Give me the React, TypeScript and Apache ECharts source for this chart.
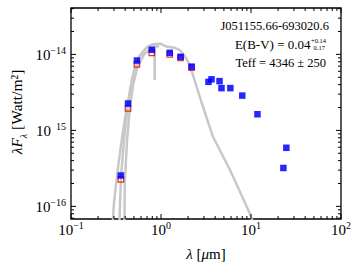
import React, { useEffect, useRef } from "react";
import * as echarts from "echarts";

// Photometry (blue filled squares), wavelength in micron, lambda*F_lambda in W/m^2
const photWave = [0.358, 0.43, 0.54, 0.79, 1.25, 1.65, 2.19, 3.37, 3.64, 4.47, 4.7, 5.9, 8.0, 11.8, 24.7, 22.9];
const photFlux = [2.55e-16, 2.26e-15, 8.3e-15, 1.15e-14, 1.05e-14, 9.3e-15, 6.9e-15, 4.35e-15, 4.7e-15, 4.45e-15, 3.6e-15, 3.6e-15, 2.87e-15, 1.63e-15, 5.9e-16, 3.2e-16];

// Reddened photometry (red open squares)
const redWave = [0.358, 0.43, 0.54, 0.79, 1.25, 1.65, 2.19];
const redFlux = [2.26e-16, 1.95e-15, 7.4e-15, 1.05e-14, 1.0e-14, 9.0e-15, 6.7e-15];

// Model spectrum strands (gray)
const modelAWave = [0.285, 0.3, 0.33, 0.36, 0.4, 0.45, 0.5, 0.58, 0.7, 0.8, 0.845, 0.85, 0.855, 1.0, 1.15, 1.42, 1.61, 1.83, 2.08, 2.8, 3.77, 5.77, 8.46, 10.0, 11.0];
const modelAFlux = [4e-17, 1.1e-16, 3.0e-16, 6.5e-16, 1.5e-15, 3.2e-15, 6.0e-15, 9.5e-15, 1.25e-14, 1.35e-14, 1.37e-14, 4.6e-15, 1.37e-14, 1.38e-14, 1.27e-14, 1.22e-14, 1.15e-14, 9.6e-15, 7.4e-15, 2.4e-15, 8.3e-16, 3.1e-16, 1.16e-16, 7.4e-17, 5.0e-17];
const modelBWave = [0.392, 0.396, 0.42, 0.45, 0.49, 0.55, 0.65, 0.78, 0.95];
const modelBFlux = [4e-17, 2.1e-16, 7.5e-16, 1.9e-15, 4.0e-15, 7.0e-15, 1.0e-14, 1.2e-14, 1.3e-14];
const modelCWave = [0.34, 0.36, 0.39, 0.43, 0.48, 0.56, 0.68, 0.8];
const modelCFlux = [4e-17, 2.5e-16, 8e-16, 2.2e-15, 5e-15, 9e-15, 1.2e-14, 1.3e-14];

// Axes
const X_MIN = 0.1;
const X_MAX = 100;
const Y_MIN = 6.82e-17;
const Y_MAX = 4.08e-14;
const xMajorTicks = [0.1, 1, 10, 100];
const yMajorTicks = [1e-16, 1e-15, 1e-14];
const minorMult = [2, 3, 4, 5, 6, 7, 8, 9];
const xMinorTicks = [0.1, 1, 10].flatMap((d) => minorMult.map((m) => m * d));
const yMinorTicks = [1e-17, 1e-16, 1e-15, 1e-14]
  .flatMap((d) => minorMult.map((m) => m * d))
  .filter((v) => v > Y_MIN && v < Y_MAX);

const FONT = "'Liberation Serif', 'Times New Roman', serif";

function zip(a: number[], b: number[]) {
  return a.map((v, i) => [v, b[i]]);
}

export default function App() {
  const ref = useRef<HTMLDivElement>(null);
  useEffect(() => {
    if (!ref.current) return;
    const chart = echarts.init(ref.current, undefined, { renderer: "svg" });

    const tickData: number[][] = [];
    xMajorTicks.forEach((v) => tickData.push([v, Y_MIN, 0, 5]));
    xMinorTicks.forEach((v) => tickData.push([v, Y_MIN, 0, 3]));
    yMajorTicks.forEach((v) => tickData.push([X_MIN, v, 1, 5]));
    yMinorTicks.forEach((v) => tickData.push([X_MIN, v, 1, 3]));

    const richLabel = {
      b: { fontSize: 15, fontFamily: FONT, color: "#000", lineHeight: 17, verticalAlign: "bottom" },
      s: { fontSize: 10, fontFamily: FONT, color: "#000", lineHeight: 17, verticalAlign: "top" },
    };

    const grayLine = (data: number[][]) => ({
      type: "line",
      data,
      showSymbol: false,
      symbol: "none",
      lineStyle: { color: "#c8c8c8", width: 2.5 },
      z: 1,
      clip: true,
    });

    const option: any = {
      animation: false,
      textStyle: { fontFamily: FONT },
      grid: {
        left: 71,
        right: 11,
        top: 8,
        bottom: 40,
        show: true,
        borderColor: "#000",
        borderWidth: 1.3,
        backgroundColor: "transparent",
      },
      xAxis: {
        type: "log",
        logBase: 10,
        min: X_MIN,
        max: X_MAX,
        axisLine: { show: false },
        axisTick: { show: false },
        splitLine: { show: false },
        axisLabel: {
          margin: 1,
          fontFamily: FONT,
          formatter: (v: number) => {
            const e = Math.round(Math.log10(v));
            return `{b|10}{s|${e < 0 ? "\u2212" + -e : e}}`;
          },
          rich: richLabel,
        },
        name: "{i|λ}{r| [}{i|μ}{r|m]}",
        nameLocation: "middle",
        nameGap: 27,
        nameTextStyle: {
          fontFamily: FONT,
          rich: {
            i: { fontSize: 15, fontFamily: FONT, fontStyle: "italic", color: "#000" },
            r: { fontSize: 15, fontFamily: FONT, color: "#000" },
          },
        },
      },
      yAxis: {
        type: "log",
        logBase: 10,
        min: Y_MIN,
        max: Y_MAX,
        axisLine: { show: false },
        axisTick: { show: false },
        splitLine: { show: false },
        axisLabel: {
          margin: 5,
          fontFamily: FONT,
          showMinLabel: false,
          showMaxLabel: false,
          formatter: (v: number) => {
            const e = Math.round(Math.log10(v));
            if (e === -15) return "{b|10}{s|\u00a0\u00a015}";
            return `{b|10}{s|${e < 0 ? "\u2212" + -e : e}}`;
          },
          rich: richLabel,
        },
      },
      series: [
        grayLine(zip(modelAWave, modelAFlux)),
        grayLine(zip(modelBWave, modelBFlux)),
        grayLine(zip(modelCWave, modelCFlux)),
        {
          type: "scatter",
          data: zip(redWave, redFlux),
          symbol: "rect",
          symbolSize: 5.5,
          itemStyle: { color: "rgba(0,0,0,0)", borderColor: "#e00000", borderWidth: 1.2 },
          z: 3,
        },
        {
          type: "scatter",
          data: zip(photWave, photFlux),
          symbol: "rect",
          symbolSize: 6.5,
          itemStyle: { color: "#0000ff", opacity: 0.85 },
          z: 4,
        },
        {
          type: "custom",
          data: tickData,
          clip: false,
          z: 10,
          silent: true,
          renderItem: (params: any, api: any) => {
            const cs = params.coordSys;
            const kind = api.value(2);
            const len = api.value(3);
            const p = api.coord([api.value(0), api.value(1)]);
            const style = { stroke: "#000", lineWidth: 1 };
            if (kind === 0) {
              const x = p[0];
              const yb = cs.y + cs.height;
              const yt = cs.y;
              return {
                type: "group",
                children: [
                  { type: "line", shape: { x1: x, y1: yb, x2: x, y2: yb - len }, style },
                  { type: "line", shape: { x1: x, y1: yt, x2: x, y2: yt + len }, style },
                ],
              };
            }
            const y = p[1];
            const xl = cs.x;
            const xr = cs.x + cs.width;
            return {
              type: "group",
              children: [
                { type: "line", shape: { x1: xl, y1: y, x2: xl + len, y2: y }, style },
                { type: "line", shape: { x1: xr, y1: y, x2: xr - len, y2: y }, style },
              ],
            };
          },
        },
      ],
      graphic: [
        {
          type: "text",
          x: 18,
          y: 112,
          rotation: Math.PI / 2,
          style: {
            text: "{i|λF}{is|λ}{r| [Watt/m²]}",
            align: "center",
            verticalAlign: "middle",
            fill: "#000",
            rich: {
              i: { fontSize: 15.5, fontFamily: FONT, fontStyle: "italic", fill: "#000", lineHeight: 17, verticalAlign: "top" },
              is: { fontSize: 10, fontFamily: FONT, fontStyle: "italic", fill: "#000", lineHeight: 20, verticalAlign: "bottom" },
              r: { fontSize: 15.5, fontFamily: FONT, fill: "#000", lineHeight: 17, verticalAlign: "top" },
            },
          },
        },
        {
          type: "text",
          x: 329,
          y: 26,
          style: { text: "J051155.66-693020.6", fontSize: 12.5, fontFamily: FONT, fill: "#000", align: "right", verticalAlign: "middle" },
        },
        {
          type: "text",
          x: 310.5,
          y: 44.3,
          style: { text: "E(B-V) = 0.04", fontSize: 13, fontFamily: FONT, fill: "#000", align: "right", verticalAlign: "middle" },
        },
        {
          type: "text",
          x: 311,
          y: 40,
          style: { text: "+0.14", fontSize: 6.5, fontFamily: FONT, fill: "#000", align: "left", verticalAlign: "middle" },
        },
        {
          type: "text",
          x: 313.5,
          y: 47.5,
          style: { text: "0.17", fontSize: 6.5, fontFamily: FONT, fill: "#000", align: "left", verticalAlign: "middle" },
        },
        {
          type: "text",
          x: 326,
          y: 62.7,
          style: { text: "Teff = 4346 ± 250", fontSize: 12.5, fontFamily: FONT, fill: "#000", align: "right", verticalAlign: "middle" },
        },
      ],
    };

    chart.setOption(option);
    return () => chart.dispose();
  }, []);

  return <div ref={ref} style={{ width: 354, height: 266, position: "absolute", left: 0, top: 0 }} />;
}
